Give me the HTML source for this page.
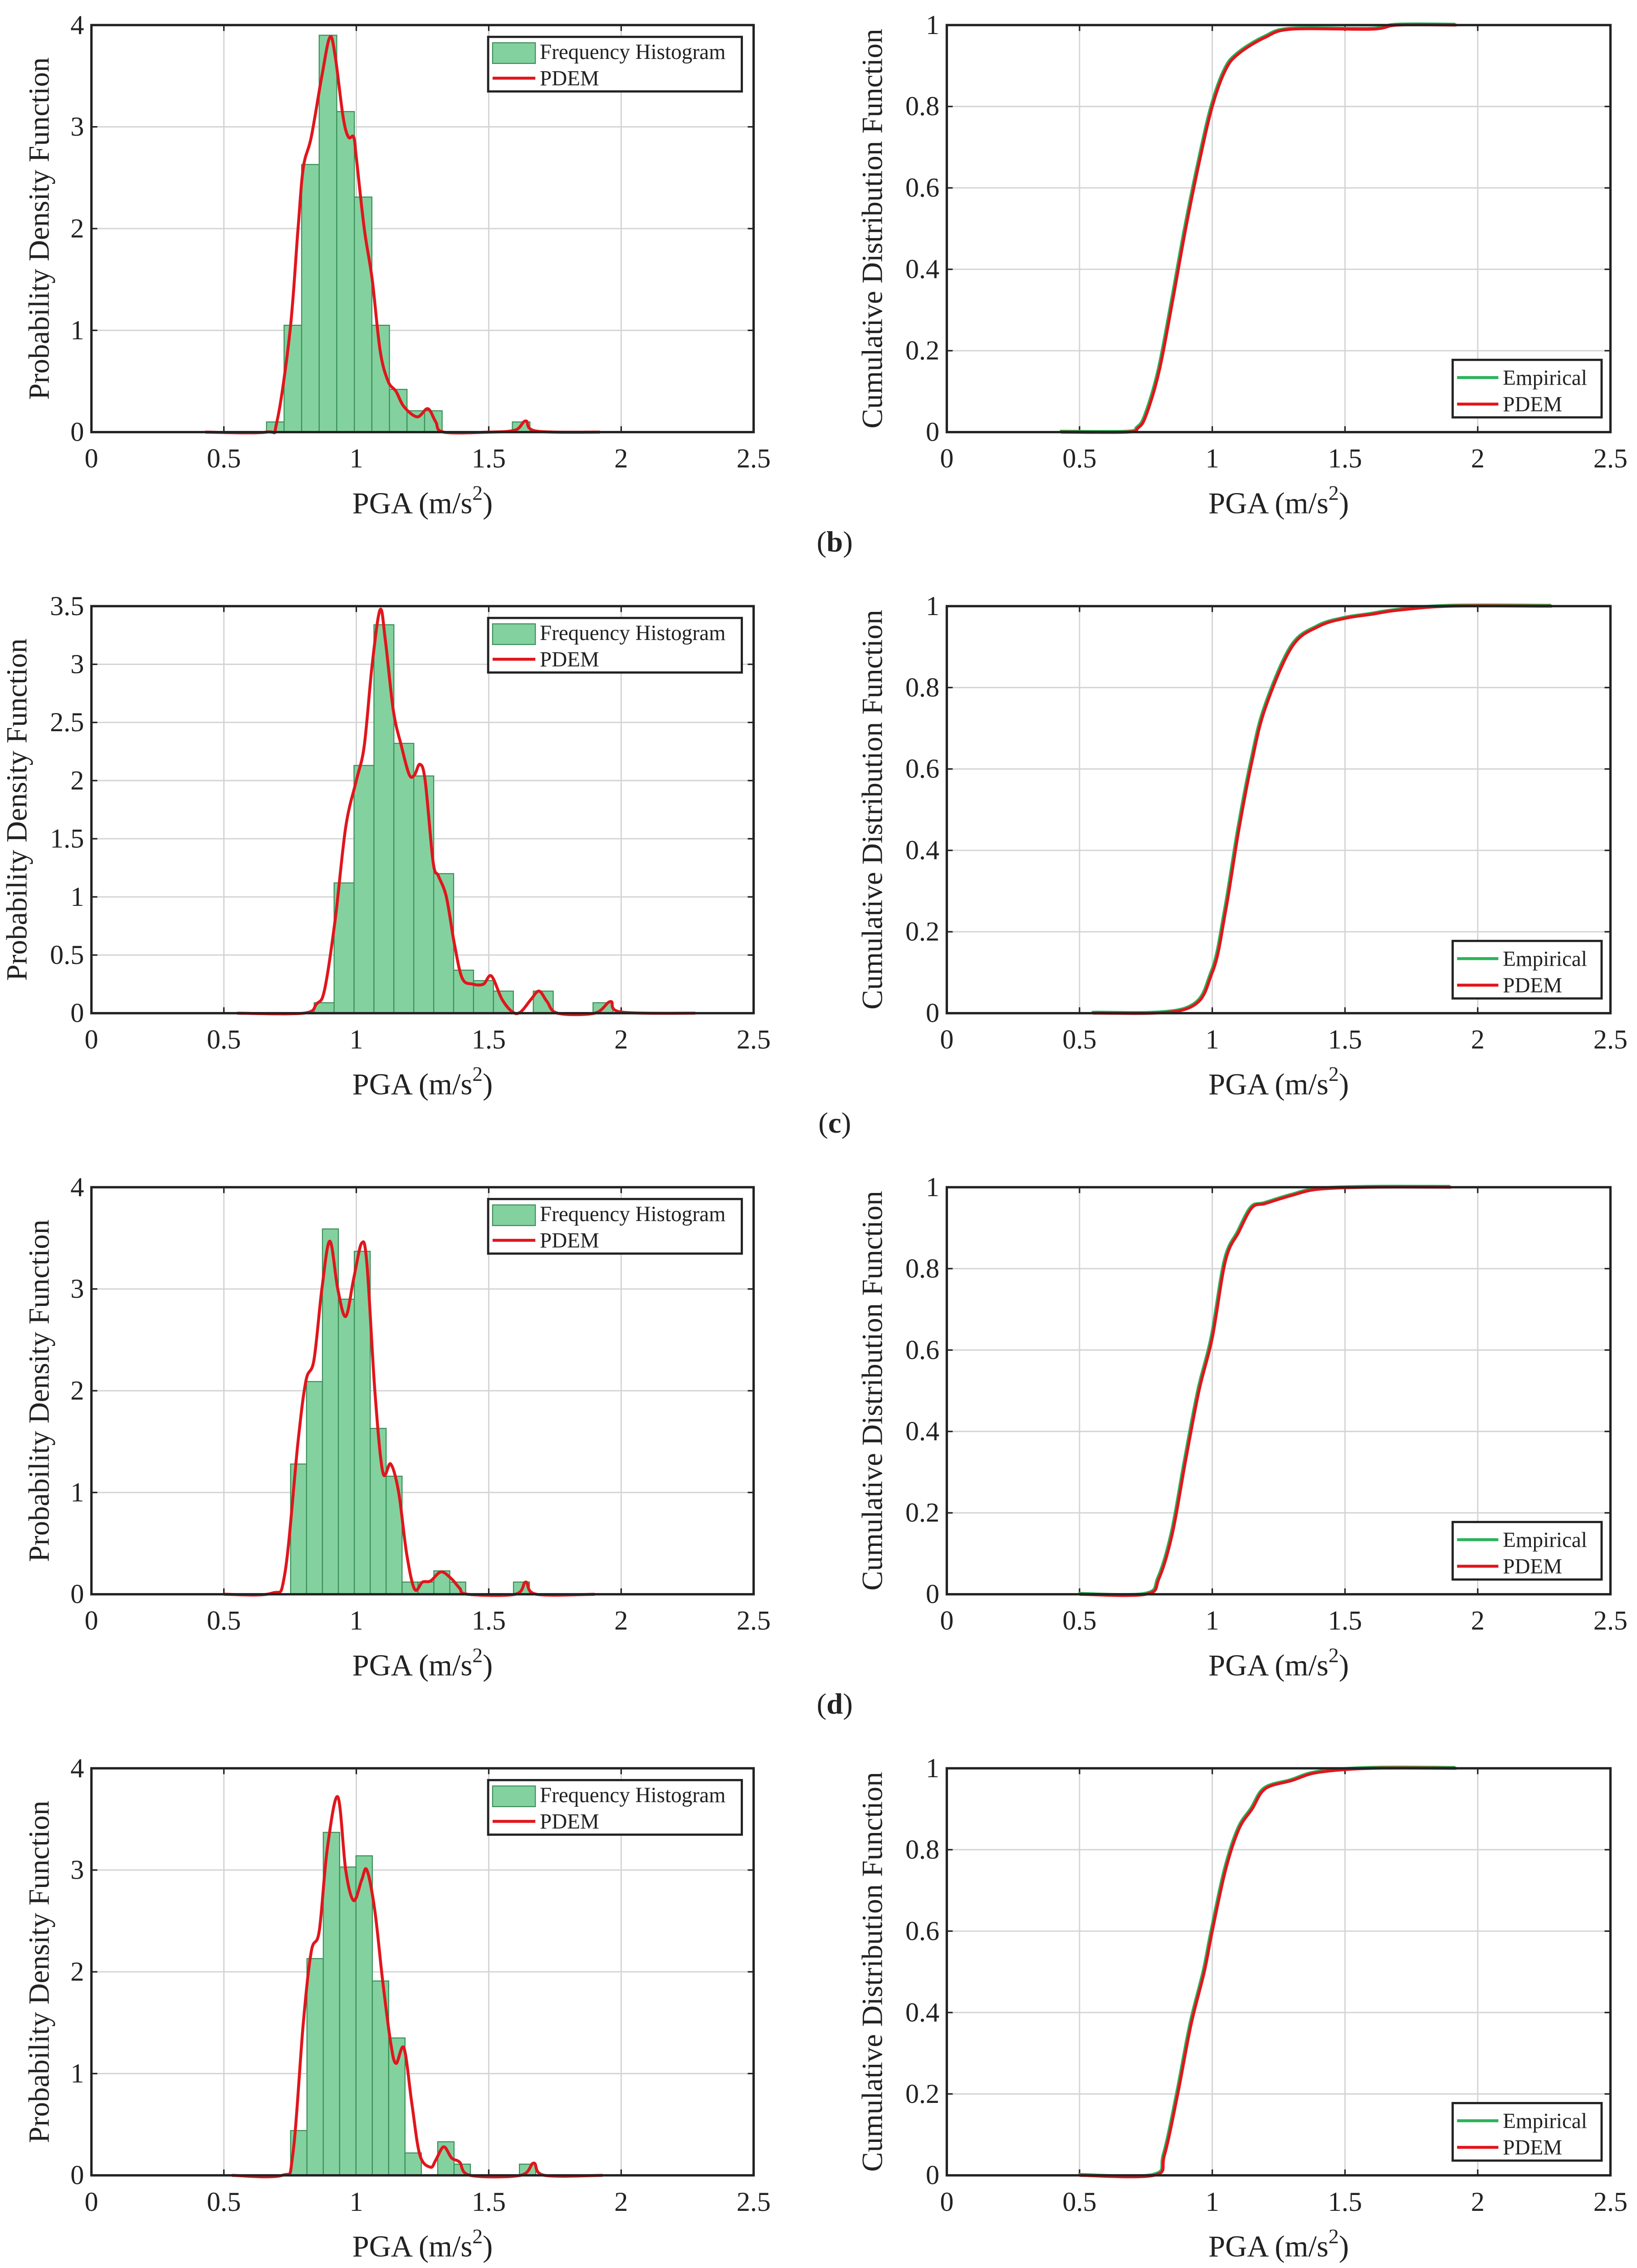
<!DOCTYPE html>
<html><head><meta charset="utf-8"><style>
html,body{margin:0;padding:0;background:#fff;width:3609px;height:5102px;overflow:hidden;}
svg{display:block;}
text{font-family:"Liberation Serif",serif;fill:#222;}
</style></head><body>
<svg id="fig" xmlns="http://www.w3.org/2000/svg" width="3609" height="5102" viewBox="0 0 1110 1569.2" preserveAspectRatio="none"></svg>
<script>
// ---- Data ----
const binStart = [0.661, 0.841, 0.752, 0.752];
const binWidth = [0.0663, 0.0752, 0.0601, 0.0617];
const hist1 = [0.1,1.05,2.63,3.9,3.15,2.31,1.05,0.42,0.21,0.21,0,0,0,0,0.1];
const hist2 = [0.09,1.12,2.13,3.34,2.32,2.04,1.20,0.37,0.28,0.19,0,0.19,0,0,0.09];
const hist3 = [1.28,2.09,3.59,2.90,3.37,1.63,1.16,0.12,0.12,0.23,0.12,0,0,0,0.12];
const hist4 = [0.44,2.13,3.37,3.03,3.14,1.91,1.35,0.22,0,0.33,0.11,0,0,0,0.11];

const pdfX1 = [0.43,0.66,0.7,0.75,0.78,0.8,0.83,0.87,0.9,0.92,0.95,0.97,0.99,1.0,1.03,1.06,1.09,1.12,1.15,1.18,1.23,1.27,1.3,1.33,1.5,1.6,1.64,1.68,1.92];
const pdfY1 = [0,0,0.1,1.0,2.0,2.6,2.9,3.5,3.88,3.7,3.1,2.9,2.9,2.7,2.0,1.5,0.8,0.5,0.4,0.25,0.15,0.23,0.1,0,0,0.02,0.11,0.01,0];
const pdfX2 = [0.55,0.8,0.85,0.88,0.92,0.96,1.0,1.03,1.06,1.09,1.11,1.14,1.17,1.2,1.22,1.24,1.26,1.29,1.31,1.34,1.37,1.4,1.44,1.48,1.51,1.55,1.59,1.62,1.66,1.69,1.72,1.76,1.9,1.96,2.0,2.28];
const pdfY2 = [0,0,0.08,0.2,0.8,1.6,2.0,2.3,3.0,3.47,3.2,2.6,2.3,2.05,2.05,2.14,2.0,1.3,1.18,1.0,0.6,0.3,0.25,0.25,0.32,0.12,0.01,0.01,0.12,0.19,0.1,0,0,0.1,0.01,0];
const pdfX3 = [0.5,0.68,0.73,0.78,0.81,0.84,0.87,0.9,0.93,0.96,0.99,1.02,1.04,1.07,1.1,1.13,1.16,1.19,1.22,1.25,1.28,1.32,1.36,1.39,1.42,1.6,1.64,1.68,1.9];
const pdfY3 = [0,0.01,0.2,1.5,2.1,2.3,3.0,3.47,3.0,2.73,3.1,3.45,3.25,2.0,1.2,1.28,1.0,0.4,0.05,0.12,0.13,0.22,0.15,0.06,0,0,0.12,0,0];
const pdfX4 = [0.53,0.72,0.76,0.8,0.83,0.86,0.89,0.93,0.96,0.99,1.02,1.04,1.07,1.1,1.13,1.15,1.18,1.21,1.24,1.28,1.3,1.33,1.36,1.39,1.43,1.62,1.67,1.71,1.93];
const pdfY4 = [0,0,0.2,1.5,2.2,2.4,3.2,3.72,3.0,2.7,2.9,3.0,2.6,1.9,1.3,1.1,1.25,0.7,0.2,0.08,0.15,0.28,0.17,0.13,0,0,0.12,0,0];

const cdfX1 = [0.43,0.68,0.72,0.75,0.8,0.85,0.9,0.95,1.0,1.05,1.1,1.2,1.3,1.6,1.7,1.92];
const cdfY1 = [0,0,0.01,0.04,0.15,0.32,0.5,0.66,0.8,0.89,0.93,0.97,0.99,0.99,1,1];
const cdfX2 = [0.55,0.9,1.0,1.05,1.1,1.15,1.2,1.3,1.4,1.5,1.6,1.7,1.9,2.28];
const cdfY2 = [0,0.01,0.1,0.25,0.45,0.62,0.75,0.9,0.95,0.97,0.98,0.99,1,1];
const cdfX3 = [0.5,0.75,0.8,0.85,0.9,0.95,1.0,1.05,1.1,1.15,1.2,1.3,1.4,1.6,1.9];
const cdfY3 = [0,0,0.04,0.15,0.33,0.5,0.63,0.82,0.89,0.95,0.96,0.98,0.995,1,1];
const cdfX4 = [0.5,0.78,0.82,0.87,0.92,0.97,1.0,1.05,1.1,1.15,1.2,1.3,1.4,1.6,1.92];
const cdfY4 = [0,0,0.05,0.2,0.37,0.5,0.6,0.75,0.85,0.9,0.95,0.97,0.99,1,1];

const xTicks = ["0","0.5","1","1.5","2","2.5"];
const pdfYMax = [4,3.5,4,4];
const pdfYStep = [1,0.5,1,1];
const cdfYTicks = ["0","0.2","0.4","0.6","0.8","1"];
const panelLabels = ["b","c","d","e"];

// ---- Drawing ----
const NS="http://www.w3.org/2000/svg";
const svg=document.getElementById('fig');
function mk(tag,attrs,parent){const e=document.createElementNS(NS,tag);for(const k in attrs)e.setAttribute(k,attrs[k]);(parent||svg).appendChild(e);return e;}
function smoothPath(pts){
  let d="M"+pts[0][0].toFixed(2)+","+pts[0][1].toFixed(2);
  for(let i=0;i<pts.length-1;i++){
    const p0=pts[Math.max(0,i-1)],p1=pts[i],p2=pts[i+1],p3=pts[Math.min(pts.length-1,i+2)];
    const c1=[p1[0]+(p2[0]-p0[0])/6,p1[1]+(p2[1]-p0[1])/6];
    const c2=[p2[0]-(p3[0]-p1[0])/6,p2[1]-(p3[1]-p1[1])/6];
    d+=" C"+c1[0].toFixed(2)+","+c1[1].toFixed(2)+" "+c2[0].toFixed(2)+","+c2[1].toFixed(2)+" "+p2[0].toFixed(2)+","+p2[1].toFixed(2);
  }
  return d;
}
const hists=[hist1,hist2,hist3,hist4];
const pdfXs=[pdfX1,pdfX2,pdfX3,pdfX4], pdfYs=[pdfY1,pdfY2,pdfY3,pdfY4];
const cdfXs=[cdfX1,cdfX2,cdfX3,cdfX4], cdfYs=[cdfY1,cdfY2,cdfY3,cdfY4];

function axesFrame(g,x0,x1,yTop,yBot,yTicks,yFn,ylabel,ylabX){
  for(let i=0;i<xTicks.length;i++){
    const x=x0+(x1-x0)*i/(xTicks.length-1);
    const gl=mk('line',{x1:x,x2:x,y1:yTop,y2:yBot,stroke:'#d4d4d4','stroke-width':0.9},g);
    
    
    const t=mk('text',{x:x,y:yBot+24,'font-size':18.5,'text-anchor':'middle'},g);
    t.textContent=xTicks[i];
    
    
    mk('line',{x1:x,x2:x,y1:yBot,y2:yBot-4,stroke:'#222','stroke-width':1},g);
    mk('line',{x1:x,x2:x,y1:yTop,y2:yTop+4,stroke:'#222','stroke-width':1},g);
  }
  yTicks.forEach(v=>{
    const y=yFn(v);
    const gl=mk('line',{x1:x0,x2:x1,y1:y,y2:y,stroke:'#d4d4d4','stroke-width':0.9},g);
    
    
    const t=mk('text',{x:x0-5,y:y+6,'font-size':18.5,'text-anchor':'end'},g);
    t.textContent=v.label;
    
    
    mk('line',{x1:x0,x2:x0+4,y1:y,y2:y,stroke:'#222','stroke-width':1},g);
    mk('line',{x1:x1,x2:x1-4,y1:y,y2:y,stroke:'#222','stroke-width':1},g);
  });
  const xl=mk('text',{x:(x0+x1)/2,y:yBot+55,'font-size':20.5,'text-anchor':'middle'},g);
  xl.innerHTML='PGA (m/s<tspan dy="-9" font-size="14">2</tspan><tspan dy="9">)</tspan>';
  
  
  const yl=mk('text',{x:ylabX,y:(yTop+yBot)/2,'font-size':20,'text-anchor':'middle',transform:'rotate(-90 '+ylabX+' '+(yTop+yBot)/2+')'},g);
  yl.textContent=ylabel;
  
  
}

for(let r=0;r<4;r++){
  const yTop=17+394*r, yBot=yTop+276;
  const L0=62,L1=511;
  const g=mk('g',{});
  
  
  const sx=v=>L0+(L1-L0)*v/2.5;
  const sy=v=>yBot-(yBot-yTop)*v/pdfYMax[r];
  const ticks=[];
  for(let v=0;v<=pdfYMax[r]+1e-9;v+=pdfYStep[r]) ticks.push({v:v,label:String(Math.round(v*10)/10)});
  axesFrame(g,L0,L1,yTop,yBot,ticks.map(t=>({label:t.label,valueOf(){return t.v}})),v=>sy(+v),'Probability Density Function',r===1?18:33);
  hists[r].forEach((h,i)=>{
    if(h<=0) return;
    const xa=sx(binStart[r]+i*binWidth[r]), xb=sx(binStart[r]+(i+1)*binWidth[r]);
    const b=mk('rect',{x:xa,y:sy(h),width:xb-xa,height:yBot-sy(h),fill:'#84d1a0',stroke:'#3a8f58','stroke-width':0.7},g);
    
    
  });
  const pts=pdfXs[r].map((x,i)=>[sx(x),sy(pdfYs[r][i])]);
  const pl=mk('path',{d:smoothPath(pts),fill:'none',stroke:'#e0161c','stroke-width':2,'stroke-linejoin':'round'},g);
  
  
  mk('rect',{x:L0,y:yTop,width:L1-L0,height:yBot-yTop,fill:'none',stroke:'#222','stroke-width':1.6},g);
  const lg=mk('g',{},g);
  
  
  mk('rect',{x:331,y:yTop+8,width:172,height:37,fill:'#fff',stroke:'#222','stroke-width':1.5},lg);
  mk('rect',{x:334,y:yTop+12,width:29,height:14,fill:'#84d1a0',stroke:'#3a8f58','stroke-width':0.7},lg);
  const t1=mk('text',{x:366,y:yTop+23,'font-size':14.5},lg);t1.textContent='Frequency Histogram';
  
  
  mk('line',{x1:334,x2:363,y1:yTop+36,y2:yTop+36,stroke:'#e0161c','stroke-width':2},lg);
  const t2=mk('text',{x:366,y:yTop+41,'font-size':14.5},lg);t2.textContent='PDEM';
  
  

  const R0=642,R1=1092;
  const g2=mk('g',{});
  
  
  const cx=v=>R0+(R1-R0)*v/2.5;
  const cy=v=>yBot-(yBot-yTop)*v;
  axesFrame(g2,R0,R1,yTop,yBot,cdfYTicks.map(l=>({label:l,valueOf(){return +l}})),v=>cy(+v),'Cumulative Distribution Function',598);
  const cpts=cdfXs[r].map((x,i)=>[cx(x),cy(cdfYs[r][i])]);
  const eg=mk('path',{d:smoothPath(cpts.map(p=>[p[0]-0.8,p[1]-0.6])),fill:'none',stroke:'#2bb35a','stroke-width':2},g2);
  
  
  const rc=mk('path',{d:smoothPath(cpts),fill:'none',stroke:'#e0161c','stroke-width':2},g2);
  
  
  mk('rect',{x:R0,y:yTop,width:R1-R0,height:yBot-yTop,fill:'none',stroke:'#222','stroke-width':1.6},g2);
  const lg2=mk('g',{},g2);
  
  
  mk('rect',{x:985,y:yTop+227,width:101,height:39,fill:'#fff',stroke:'#222','stroke-width':1.5},lg2);
  mk('line',{x1:988,x2:1016,y1:yTop+239,y2:yTop+239,stroke:'#2bb35a','stroke-width':2},lg2);
  const e1=mk('text',{x:1019,y:yTop+244,'font-size':14.5},lg2);e1.textContent='Empirical';
  
  
  mk('line',{x1:988,x2:1016,y1:yTop+257,y2:yTop+257,stroke:'#e0161c','stroke-width':2},lg2);
  const e2=mk('text',{x:1019,y:yTop+262,'font-size':14.5},lg2);e2.textContent='PDEM';
  
  

  const pl2=mk('text',{x:566,y:yTop+357,'font-size':20,'text-anchor':'middle'});
  pl2.innerHTML='(<tspan font-weight="bold">'+panelLabels[r]+'</tspan>)';
  
  
}
</script>
</body></html>
